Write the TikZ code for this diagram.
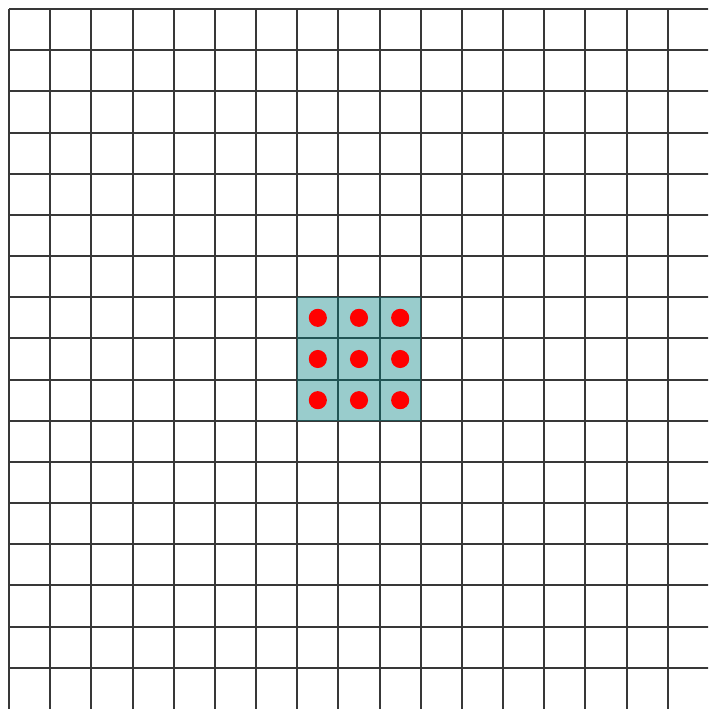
\documentclass[tikz,border=0pt]{standalone}
\begin{document}
\begin{tikzpicture}[x=1cm,y=1cm,
  gridline/.style={line width=1.4pt, color=black!78},
  window/.style={fill=teal, fill opacity=0.4},
  dot/.style={circle, fill=red, draw=none, inner sep=0pt, minimum size=0.44cm}]
\useasboundingbox (-0.2187,0.2187) rectangle (16.98,-17.0);
\begin{scope}
\clip (-0.2187,0.2187) rectangle (16.98,-17.0);
\foreach \i in {0,...,16} {
  \draw[gridline] (\i,0) -- (\i,-17.5);
  \draw[gridline] (0,-\i) -- (17.5,-\i);
}
\end{scope}
\fill[window] (7,-7) rectangle (10,-10);
\foreach \c in {0,1,2} {
  \foreach \r in {0,1,2} {
    \node[dot] (d\r\c) at (7.5+\c,-7.5-\r) {};
  }
}
\end{tikzpicture}
\end{document}
